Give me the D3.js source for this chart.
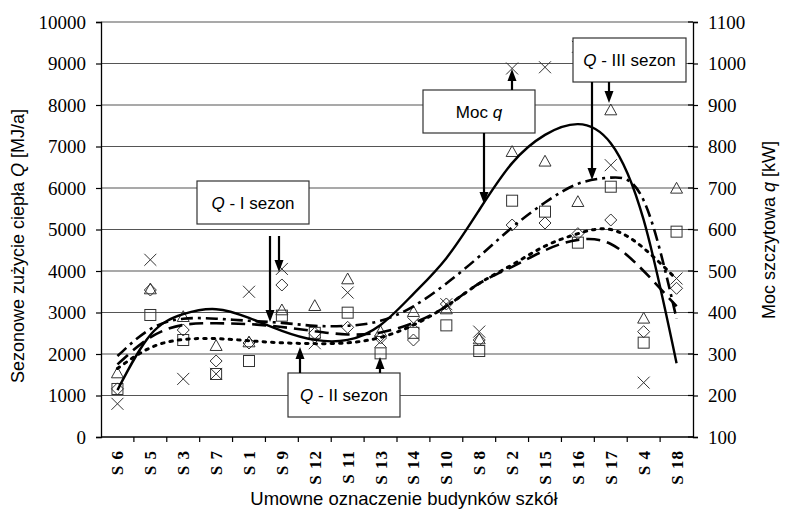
<!DOCTYPE html>
<html><head><meta charset="utf-8">
<script src="https://cdn.jsdelivr.net/npm/d3@7"></script>
<style>body{margin:0;background:#fff}svg{display:block}</style>
</head><body>
<svg id="c" width="787" height="517"></svg>
<script>
const categories = ["S6","S5","S3","S7","S1","S9","S12","S11","S13","S14","S10","S8","S2","S15","S16","S17","S4","S18"];
const catLabels = ["S 6","S 5","S 3","S 7","S 1","S 9","S 12","S 11","S 13","S 14","S 10","S 8","S 2","S 15","S 16","S 17","S 4","S 18"];
const leftTicks = [0,1000,2000,3000,4000,5000,6000,7000,8000,9000,10000];
const rightTicks = [100,200,300,400,500,600,700,800,900,1000,1100];
// measured points
const qI_points   = [1160,3542,2578,1831,2265,3663,2500,2643,2385,2337,3205,2337,5108,5157,4900,5229,2538,3583];
const qII_points  = [1157,2940,2337,1518,1831,2924,2510,2996,2016,2510,2690,2072,5694,5430,4683,6031,2273,4948];
const qIII_points = [1518,3542,2875,2177,2265,3036,3140,3783,2514,2996,3060,2337,6851,6620,5646,7855,2836,5968];
const mocQ_points = [180,527,240,252,450,505,326,448,330,374,420,354,988,991,1040,755,231,482];
// trend curves read at each category
const qI_trend   = [1750,2400,2700,2740,2720,2650,2550,2470,2520,2750,3150,3700,4100,4500,4750,4650,4000,3150];
const qII_trend  = [1650,2150,2350,2370,2320,2270,2250,2270,2400,2700,3150,3700,4150,4600,4900,5000,4550,3800];
const qIII_trend = [1950,2600,2850,2850,2800,2750,2680,2680,2800,3150,3700,4350,5050,5650,6100,6250,5700,2850];
const mocQ_trend = [213,346,396,408,387,356,334,334,370,445,531,647,760,828,854,808,623,278];

const svg = d3.select("#c");
const L = 101, R = 693, T = 22, B = 437;
const x = d3.scaleBand().domain(categories).range([L,R]);
const cx = c => x(c) + x.bandwidth()/2;
const yL = d3.scaleLinear().domain([0,10000]).range([B,T]);
const yR = d3.scaleLinear().domain([100,1100]).range([B,T]);

// gridlines
svg.append("g").selectAll("line").data(leftTicks.slice(1)).join("line")
  .attr("x1",L).attr("x2",R).attr("y1",d=>yL(d)).attr("y2",d=>yL(d))
  .attr("stroke","#555").attr("stroke-width",1.2);

// axes
const serif = "'Liberation Serif','Times New Roman',serif";
const sans = "'Liberation Sans',Arial,sans-serif";
const gl = svg.append("g").attr("transform",`translate(${L},0)`)
  .call(d3.axisLeft(yL).tickValues(leftTicks).tickSize(5).tickPadding(10).tickFormat(d3.format("d")));
const gr = svg.append("g").attr("transform",`translate(${R},0)`)
  .call(d3.axisRight(yR).tickValues(rightTicks).tickSize(5).tickPadding(10).tickFormat(d3.format("d")));
[gl,gr].forEach(g=>{
  g.select(".domain").attr("stroke","#000").attr("stroke-width",1.3);
  g.selectAll(".tick line").attr("stroke","#000").attr("stroke-width",1.2);
  g.selectAll(".tick text").attr("font-family",serif).attr("font-size",19).attr("fill","#000");
});
// inner cross part of right ticks
svg.append("g").selectAll("line").data(rightTicks).join("line")
  .attr("x1",R-5).attr("x2",R).attr("y1",d=>yR(d)).attr("y2",d=>yR(d)).attr("stroke","#000").attr("stroke-width",1.2);

// x axis
const gx = svg.append("g").attr("transform",`translate(0,${B})`)
  .call(d3.axisBottom(x).tickSize(0).tickPadding(0).tickFormat((d,i)=>catLabels[i]));
gx.select(".domain").remove();
gx.selectAll(".tick text").attr("font-family",serif).attr("font-size",17).attr("font-weight","bold")
  .attr("letter-spacing",1).attr("fill","#000").attr("text-anchor","end").attr("dy","0.35em")
  .attr("transform","translate(0,13) rotate(-90)");
svg.append("line").attr("x1",L).attr("x2",R).attr("y1",B).attr("y2",B).attr("stroke","#000").attr("stroke-width",1.3);
svg.append("g").selectAll("line").data(categories.slice(1)).join("line")
  .attr("x1",d=>x(d)).attr("x2",d=>x(d)).attr("y1",B).attr("y2",B+5).attr("stroke","#000").attr("stroke-width",1.2);

// markers
const mk = svg.append("g").attr("fill","none").attr("stroke","#333").attr("stroke-width",1);
mk.selectAll(".tri").data(qIII_points).join("path")
  .attr("d","M0,-6L6,4.8L-6,4.8Z")
  .attr("transform",(d,i)=>`translate(${cx(categories[i])},${yL(d)-1})`);
mk.selectAll(".sq").data(qII_points).join("rect")
  .attr("x",(d,i)=>cx(categories[i])-5.5).attr("y",d=>yL(d)-5.5).attr("width",11).attr("height",11);
mk.selectAll(".dm").data(qI_points).join("path")
  .attr("d","M0,-6L6,0L0,6L-6,0Z")
  .attr("transform",(d,i)=>`translate(${cx(categories[i])},${yL(d)})`);
mk.selectAll(".cr").data(mocQ_points).join("path")
  .attr("d","M-6,-6L6,6M-6,6L6,-6")
  .attr("transform",(d,i)=>`translate(${cx(categories[i])},${yR(d)})`);

// trend curves
const lineL = d3.line().x((d,i)=>cx(categories[i])).y(d=>yL(d)).curve(d3.curveNatural);
const lineR = d3.line().x((d,i)=>cx(categories[i])).y(d=>yR(d)).curve(d3.curveNatural);
const cg = svg.append("g").attr("fill","none").attr("stroke","#000").attr("stroke-width",2.6);
cg.append("path").attr("d",lineL(qII_trend)).attr("stroke-dasharray","2.5,6").attr("stroke-linecap","round").attr("stroke-width",3);
cg.append("path").attr("d",lineL(qI_trend)).attr("stroke-dasharray","14,7");
cg.append("path").attr("d",lineL(qIII_trend)).attr("stroke-dasharray","12,5,3,5");
cg.append("path").attr("d",lineR(mocQ_trend)).attr("stroke-width",2.4);

// annotation boxes
function arrow(x1,y1,x2,y2){
  const g = svg.append("g");
  const dir = Math.sign(y2-y1);
  g.append("line").attr("x1",x1).attr("y1",y1).attr("x2",x2).attr("y2",y2-dir*10)
    .attr("stroke","#000").attr("stroke-width",2.2);
  g.append("path").attr("d",`M${x2},${y2}L${x2-4.5},${y2-dir*12}L${x2+4.5},${y2-dir*12}Z`).attr("fill","#000");
}
function box(x0,y0,w,h,parts){
  svg.append("rect").attr("x",x0).attr("y",y0).attr("width",w).attr("height",h)
    .attr("fill","#fff").attr("stroke","#333").attr("stroke-width",1.2);
  const t = svg.append("text").attr("x",x0+w/2).attr("y",y0+h/2).attr("dy","0.36em")
    .attr("text-anchor","middle").attr("font-family",sans).attr("font-size",17).attr("fill","#000");
  parts.forEach(p=>t.append("tspan").attr("font-style",p[1]?"italic":"normal").text(p[0]));
}
box(197,181,112,43,[["Q",true],[" - I sezon",false]]);
arrow(270,236,270,322);
arrow(279,236,279,272);
box(423,90,112,43,[["Moc ",false],["q",true]]);
arrow(512,90,512,69);
arrow(484,133,484,204);
box(288,373,112,44,[["Q",true],[" - II sezon",false]]);
arrow(300,373,300,347);
arrow(380,373,380,357);
box(573,38,113,44,[["Q",true],[" - III sezon",false]]);
arrow(592,82,592,180);
arrow(609,82,609,103);

// axis titles
const lt = svg.append("text").attr("transform","translate(24,246) rotate(-90)").attr("text-anchor","middle")
  .attr("font-family",sans).attr("font-size",18).attr("fill","#000");
lt.append("tspan").text("Sezonowe zużycie ciepła ");
lt.append("tspan").attr("font-style","italic").text("Q");
lt.append("tspan").text(" [MJ/a]");
const rt = svg.append("text").attr("transform","translate(775,230) rotate(-90)").attr("text-anchor","middle")
  .attr("font-family",sans).attr("font-size",18).attr("fill","#000");
rt.append("tspan").text("Moc szczytowa ");
rt.append("tspan").attr("font-style","italic").text("q");
rt.append("tspan").text(" [kW]");
svg.append("text").attr("x",404).attr("y",505).attr("text-anchor","middle")
  .attr("font-family",sans).attr("font-size",18.5).attr("fill","#000").text("Umowne oznaczenie budynków szkół");
</script>
</body></html>
